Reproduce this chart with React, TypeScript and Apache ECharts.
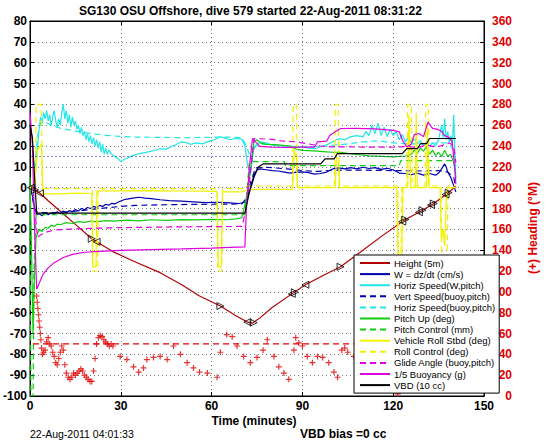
import React, { useEffect, useRef } from "react";
import * as echarts from "echarts";

const TITLE = "SG130 OSU Offshore, dive 579 started 22-Aug-2011 08:31:22";
const X_NAME = "Time (minutes)";
const Y2_NAME = "(+) Heading (\u00b0M)";
const DATE_TEXT = "22-Aug-2011 04:01:33";
const VBD_TEXT = "VBD bias =0 cc";

const LEGEND_NAMES = [
  "Height (5m)",
  "W = dz/dt (cm/s)",
  "Horiz Speed(W,pitch)",
  "Vert Speed(buoy,pitch)",
  "Horiz Speed(buoy,pitch)",
  "Pitch Up (deg)",
  "Pitch Control (mm)",
  "Vehicle Roll Stbd (deg)",
  "Roll Control (deg)",
  "Glide Angle (buoy,pitch)",
  "1/5 Buoyancy (g)",
  "VBD (10 cc)",
];

// [time (min), value]
const HEIGHT = [
  [0, 0], [1, -0.5], [1.7, -1.1], [3.3, -2.7], [6, -6.3], [10, -11.3], [15, -17.6], [20.4, -24.5],
  [22, -26], [27.5, -30.8], [35, -35.8], [43, -40.8], [50, -46.5], [56, -52], [62.9, -56.8],
  [68, -61.5], [71.8, -64.5], [73.5, -65], [76, -62.5], [80, -57.5], [87, -50.5], [91, -46.6],
  [97, -42], [102.6, -38], [110, -30], [116, -23.5], [123.5, -15.8], [129.7, -10.8],
  [133.4, -7.6], [138, -2.7], [140.7, 0.7],
];

const HEIGHT_MARKS = [
  [0.3, 0], [1.7, -1.1], [3.3, -2.7], [20.4, -24.5], [22, -26], [62.9, -56.8], [71.8, -64.5],
  [73.9, -64.8], [86.5, -51], [87.5, -50.2], [91, -46.6], [102.6, -38], [123, -16.3],
  [124, -15.3], [128.5, -11.8], [129.7, -10.8], [132.5, -8.3], [133.4, -7.6], [137.3, -3.3],
  [138.3, -2.4],
];

const W_DZDT = [
  [0, 0], [0.8, -4], [1.6, -10], [2.3, -13], [3, -12.5], [4, -13.5], [5, -12], [6, -13],
  [7, -12.2], [8, -12.8], [9, -11.5], [10, -12.5], [11, -11.2], [12, -12], [13, -11],
  [14, -11.6], [15, -10.5], [16, -11.2], [17, -10], [18, -10.6], [19, -9.5], [20, -10],
  [21, -9], [22, -9.6], [23, -8.5], [24, -9], [25, -8], [26, -8.4], [27, -7.5], [28, -7.8],
  [29, -7], [30, -6.4], [31, -5.8], [32, -5.5], [34, -5], [36, -4.6], [38, -5], [40, -5.3],
  [43, -5.8], [46, -6.2], [50, -6.5], [54, -6.8], [58, -7.2], [62, -7], [66, -7.3],
  [69, -7.6], [71, -7], [72, -4], [73, 0], [74, 5], [75, 8.5], [76, 9], [78, 8.6], [80, 8.2],
  [82, 8], [84, 7.5], [86, 7], [88, 7.5], [90, 7.6], [92, 7.2], [94, 6.5], [96, 6.8],
  [98, 7.5], [100, 9], [102, 9.5], [104, 9], [106, 9.6], [108, 9], [110, 9.8], [112, 9.2],
  [114, 9.6], [116, 8.8], [118, 9.3], [120, 8.5], [122, 7], [124, 6.8], [126, 6.2],
  [128, 7], [130, 6], [132, 6.8], [134, 6], [135, 7], [136, 9], [137, 11.4], [137.5, 10],
  [138, 7.5], [139, 5], [140, 1], [140.7, -2],
];

const VERT_SPEED = [
  [0.8, -5], [1.6, -11], [3, -12], [8, -12], [15, -11.3], [20, -10.5], [25, -9.7], [30, -9],
  [35, -8.5], [45, -8.2], [55, -8], [65, -7.9], [70, -7.8], [71.5, -5], [73, 3], [74.5, 9.5],
  [78, 9.8], [85, 9], [90, 8.2], [95, 7.8], [100, 8.4], [110, 8.4], [120, 8.2], [130, 8],
  [135, 8.2], [138, 7.5], [140, 5], [140.7, 0],
];

const HORIZ_SPEED_W = [
  [1.5, 5], [2.2, 15], [3, 28], [3.5, 34], [4, 31], [4.5, 36], [5, 33], [5.5, 37], [6, 32],
  [6.5, 35], [7, 30], [7.5, 34], [8, 37], [8.5, 32], [9, 29], [9.5, 33], [10, 30],
  [10.5, 36], [11, 40], [11.5, 33], [12, 37], [12.5, 31], [13, 35], [13.5, 29], [14, 34],
  [14.5, 30], [15, 32], [15.5, 28], [16, 30], [16.5, 26], [17, 29], [17.5, 25], [18, 27],
  [18.5, 23], [19, 26], [19.5, 22], [20, 25], [20.5, 21], [21, 24], [21.5, 20], [22, 23],
  [22.5, 19], [23, 22], [23.5, 17], [24, 21], [24.5, 16], [25, 19], [25.5, 16], [26, 18],
  [27, 16], [28, 15], [29, 14], [30, 12.5], [31, 13.5], [32, 14], [34, 15.5], [36, 16.3],
  [38, 16.8], [40, 17.5], [43, 18.7], [45, 18.5], [46.3, 19.5], [48, 20.5], [50, 22],
  [52, 21.5], [53, 20.8], [55, 21.5], [57, 21], [59, 22.2], [61, 23], [62.8, 24.4],
  [64, 24], [66, 23], [68, 23.6], [70, 23.2], [71, 20], [72, 10], [72.8, 6], [73.5, 14],
  [74, 19.5], [76, 22], [78, 21.5], [80, 20.5], [82, 20.2], [84, 20], [86, 19.8],
  [88, 19.5], [90, 19.6], [92, 19], [94, 18.7], [96, 19.5], [98, 20.5], [100, 22],
  [102, 23.5], [104, 23], [106, 24.5], [108, 25], [110, 24.4], [111, 27], [112, 25],
  [113, 30], [114, 26], [115, 31], [116, 25], [117, 29], [118, 24.5], [119, 28], [120, 25],
  [121, 27], [122, 23], [123, 25.5], [124, 22], [125, 24], [126, 21.5], [127, 23.5],
  [128, 21], [129, 22.5], [130, 20.5], [131, 22], [132, 20], [133, 21.5], [134, 20],
  [135, 23], [136, 30], [136.5, 24], [137, 33], [137.5, 23], [138, 27], [138.5, 22],
  [139, 25], [139.5, 20], [140, 35], [140.4, 15], [140.7, 4],
];

const HORIZ_SPEED_B = [
  [1.6, 10], [2.5, 25], [3.5, 31], [5, 31.5], [7, 30], [10, 28.5], [14, 27.5], [18, 26.5],
  [22, 25.7], [26, 25], [30, 24.6], [35, 24.3], [40, 24.2], [50, 24], [60, 24.2],
  [66, 24.3], [70, 24], [71.5, 20], [73, 14], [74.5, 20], [77, 21], [80, 20.5], [85, 20],
  [90, 19.6], [95, 19.8], [100, 20.3], [105, 21], [110, 22], [115, 22.5], [120, 21.5],
  [125, 21], [130, 21], [135, 21.5], [138, 21.5], [140, 18], [140.7, 10],
];

const PITCH_UP = [
  [0, 5], [0.5, -30], [1, -70], [1.5, -40], [2, -24], [2.5, -22], [3, -20], [4, -21],
  [5, -19], [6, -19.5], [7, -18], [8, -18.6], [9, -17.5], [10, -17.8], [12, -16.8],
  [14, -17.2], [16, -16.3], [18, -16.7], [20, -16], [22, -16.4], [25, -15.8], [28, -16.1],
  [32, -15.6], [36, -15.9], [40, -15.4], [45, -15.7], [50, -15.3], [55, -15.5], [60, -15.2],
  [65, -15.4], [68, -15], [70, -14.5], [71.5, -5], [73, 10], [74, 22], [75, 23], [76, 21.5],
  [78, 20.8], [82, 20.5], [86, 20], [88, 18.5], [90, 17.9], [92, 17.8], [95, 17.5],
  [98, 17.2], [100, 17], [102.6, 17], [105, 16.5], [109, 15.8], [112, 15.3], [116, 15],
  [120, 14.8], [124, 15.2], [126, 16], [127, 18], [128, 16.5], [129, 19], [130, 17.5],
  [131, 19.5], [132, 16], [133, 18], [134, 15.5], [135, 17], [136, 14.8], [137, 18],
  [138, 15], [139, 16], [140, 12], [140.7, 5],
];

const PITCH_CONTROL = [
  [0, -13], [0.3, -100], [1, -100], [1.3, -40], [2, -13], [71, -13], [72.5, 12.5],
  [84, 12.5], [84.5, 10.6], [122, 10.6], [122.5, 13], [140.7, 13],
];

const VEHICLE_ROLL = [
  [0, 0], [1.5, 2], [2.5, 18], [3.8, 21], [4.2, -3], [10, -3], [15, -2.6], [20.4, -2.8],
  [20.7, -38], [21.8, -38], [22.1, -1.6], [30, -1.5], [40, -1.4], [50, -1.6], [61.8, -1.8],
  [62.2, -38], [63.2, -38], [63.6, -2], [70, -2], [72, -1], [76, -0.8], [86.8, -0.8],
  [87.3, 18], [88, 14], [88.4, 0], [100.8, 0], [101.3, 14.6], [102, 14], [102.3, 0],
  [121.2, 0], [121.6, -38], [122.8, -38], [123.2, 0], [124.8, 0], [125.2, 35], [125.8, 0],
  [127.3, 0], [127.6, 36], [128, 0], [131, 0], [131.3, 30], [131.8, 0], [135.5, 0],
  [135.9, -25], [136.5, -20], [137, -28], [137.6, -3], [138, 0], [140.7, 0],
];

const ROLL_CONTROL = [
  [0, 0], [1.8, 0], [2, 40], [3.8, 40], [4, -0.5], [20.6, -0.5], [20.8, -40], [22.3, -40],
  [22.5, -0.5], [61.8, -0.5], [62, -40], [63.4, -40], [63.6, -0.5], [70, -0.5], [72, 0.8],
  [86.7, 0.8], [87, 40], [88, 40], [88.3, 0.8], [100.6, 0.8], [100.9, 40], [101.8, 40],
  [102.1, 0.8], [121.5, 0.8], [121.8, -40], [122.5, -40], [122.8, 0.8], [124.5, 0.8],
  [124.8, 40], [126, 40], [126.3, 0.8], [130.5, 0.8], [130.8, 40], [131.6, 40],
  [131.9, 0.8], [135.8, 0.8], [136.1, -40], [137.8, -40], [138.1, 0.8], [140.7, 0.8],
];

const GLIDE_ANGLE = [
  [1.5, -10], [2.5, -24], [3.3, -22.8], [5, -21.5], [8, -20.3], [12, -20], [20, -19.5],
  [30, -19.2], [40, -19], [50, -18.8], [60, -18.7], [70, -18.6], [71.5, -10], [73, 10],
  [74, 23.6], [80, 23.2], [83, 22.5], [88, 22], [92, 21], [96, 20], [100, 19.6],
  [110, 19.5], [120, 19.4], [125, 19.8], [128, 19.2], [131, 20.5], [134, 19.5],
  [136, 20.2], [138.5, 21.5], [140, 20], [140.7, 12],
];

const BUOYANCY = [
  [0, 36], [0.8, 20], [1.5, -20], [2.2, -48.8], [3, -46], [4.3, -41.5], [6, -38.5],
  [8, -36], [11, -33.5], [14, -32], [18, -31], [23, -30.6], [30, -30.1], [40, -29.7],
  [50, -29.4], [60, -29], [66, -28.7], [71, -28.4], [71.5, -10], [72.5, 10], [73.5, 23.6],
  [74.5, 22], [76, 19.8], [80, 19.5], [85, 19.3], [90, 19.5], [94, 19.5], [95, 22],
  [98, 22.3], [99, 25], [101, 27], [102.6, 28.4], [108, 28.5], [114, 28.2], [120, 27.5],
  [122, 26.8], [123, 23], [124.5, 19.5], [126, 21], [127, 25.5], [128.5, 26], [130, 24.5],
  [131.5, 31.5], [133, 28.5], [134.7, 28], [136, 27], [137, 25], [138.5, 24], [139.5, 22],
  [140.3, 10], [140.7, 1.6],
];

const VBD = [
  [0, 30], [0.8, 24], [1.5, 5], [2.2, -12.2], [71, -12.2], [72.5, -2], [74, 6], [75.5, 10],
  [77, 11.4], [96, 11.4], [97.5, 13.8], [100.5, 13.8], [101.5, 16.3], [123, 16.3],
  [124.5, 18.7], [128, 18.7], [129, 21.1], [131, 21.1], [132, 23.6], [140.7, 23.6],
];

const REF_LINE_15 = [[0.5, 15], [140.7, 15]];
const HEADING_TARGET = [[1, 50], [140.7, 50]];

// [time (min), heading (deg M)]
const HEADING = [
  [2.2, 96], [2.4, 90], [2.6, 84], [2.8, 78], [3.0, 72], [3.2, 66], [3.4, 60], [3.6, 54],
  [3.8, 46], [4.1, 40], [4.5, 42], [5, 44], [5.5, 52], [6, 56], [6.5, 50], [7, 48],
  [7.5, 42], [8, 38], [8.5, 32], [9, 30], [9.5, 36], [10, 42], [10.5, 48], [11, 44],
  [11.5, 30], [12, 22], [12.6, 18], [13.2, 16], [13.8, 18], [14.4, 22], [15, 20],
  [15.6, 22], [16.2, 24], [16.8, 26], [17.4, 24], [18, 20], [18.6, 18], [19.2, 16],
  [19.8, 14], [20.4, 14], [21, 24], [21.5, 36], [22, 50], [22.6, 56], [23.2, 58],
  [23.8, 57], [24.4, 54], [25, 52], [25.6, 50], [26.2, 48], [26.8, 50], [27.4, 48],
  [29.8, 38], [32, 35], [34.2, 28], [35.9, 23], [37.5, 27], [38.6, 35], [40.8, 37],
  [43, 38], [45.3, 35], [47.4, 48], [49.7, 40], [51.9, 32], [54, 27], [56, 23], [58.6, 22],
  [61.8, 18], [62.9, 42], [65, 59], [66.8, 57], [68.4, 48], [70.6, 38], [72.8, 32],
  [75, 37], [77, 44], [78.4, 54], [80.6, 38], [82.2, 28], [83.9, 22], [85.5, 16],
  [87.2, 44], [87.8, 56], [88.8, 51], [90, 48], [91.6, 38], [93.3, 32], [95, 38],
  [96.7, 37], [98.7, 32], [100.4, 23], [101.6, 18], [103, 44], [104, 46], [105, 42],
  [107, 38], [110, 30], [114, 22], [118, 12], [121.5, 2], [124, 20], [128, 36], [132, 42],
  [136, 30],
];

const RED = "#e00000";
const DASH = [6, 4];
const FONT = "'Liberation Sans', Arial, Helvetica, sans-serif";

function lineSeries(name: string, data: number[][], color: string, dashed = false, width = 1.2) {
  return {
    name,
    type: "line",
    data,
    symbol: "none",
    showSymbol: false,
    lineStyle: { color, width, type: dashed ? DASH : "solid" },
    itemStyle: { color },
    xAxisIndex: 0,
    yAxisIndex: 0,
  };
}

export default function App() {
  const ref = useRef<HTMLDivElement>(null);
  useEffect(() => {
    if (!ref.current) return;
    const chart = echarts.init(ref.current, undefined, { renderer: "svg" });
    const gridLeft = 30;
    const gridTop = 21;
    const gridW = 454;
    const gridH = 375;
    const axisLbl = { fontFamily: FONT, fontSize: 12, fontWeight: "bold", color: "#000" };
    const split = { show: true, lineStyle: { color: "#777", type: [1, 3], width: 1 } };
    const option: any = {
      animation: false,
      backgroundColor: "#fff",
      grid: {
        left: gridLeft, top: gridTop, width: gridW, height: gridH,
        show: true, borderColor: "#000", borderWidth: 1, backgroundColor: "transparent",
      },
      xAxis: [
        {
          type: "value", min: 0, max: 150, interval: 30, position: "bottom",
          axisLine: { show: true, onZero: false, lineStyle: { color: "#000" } },
          axisTick: { show: true, inside: true, length: 4, lineStyle: { color: "#000" } },
          axisLabel: { ...axisLbl, margin: 4 },
          splitLine: split,
        },
        {
          type: "value", min: 0, max: 150, interval: 30, position: "top",
          axisLine: { show: true, onZero: false, lineStyle: { color: "#000" } },
          axisTick: { show: true, inside: true, length: 4, lineStyle: { color: "#000" } },
          axisLabel: { show: false },
          splitLine: { show: false },
        },
      ],
      yAxis: [
        {
          type: "value", min: -100, max: 80, interval: 10, position: "left",
          axisLine: { show: true, onZero: false, lineStyle: { color: "#000" } },
          axisTick: { show: true, inside: true, length: 4, lineStyle: { color: "#000" } },
          axisLabel: { ...axisLbl, margin: 3 },
          splitLine: split,
        },
        {
          type: "value", min: 0, max: 360, interval: 20, position: "right",
          axisLine: { show: true, onZero: false, lineStyle: { color: "#000" } },
          axisTick: { show: true, inside: true, length: 4, lineStyle: { color: "#000" } },
          axisLabel: { ...axisLbl, color: RED, margin: 28, align: "right" },
          splitLine: { show: false },
        },
      ],
      legend: {
        data: LEGEND_NAMES,
        orient: "vertical",
        left: 354,
        top: 255,
        padding: [3, 4, 3, 5],
        itemWidth: 30,
        itemHeight: 10,
        itemGap: 1.1,
        backgroundColor: "#fff",
        borderColor: "#000",
        borderWidth: 1,
        borderRadius: 0,
        selectedMode: false,
        itemStyle: { opacity: 0, borderWidth: 0 },
        textStyle: { fontFamily: FONT, fontSize: 9.5, color: "#000", lineHeight: 10, padding: [0, 0, 0, -1] },
      },
      graphic: [
        { type: "text", left: 254 - 175, top: 5, style: { text: TITLE, font: `bold 12px ${FONT}`, fill: "#000" } },
        { type: "text", x: 254, y: 421, style: { text: X_NAME, font: `bold 12px ${FONT}`, fill: "#000", textAlign: "center", textVerticalAlign: "middle" } },
        { type: "text", x: 30, y: 434, style: { text: DATE_TEXT, font: `10.5px ${FONT}`, fill: "#000", textAlign: "left", textVerticalAlign: "middle" } },
        { type: "text", x: 300, y: 434, style: { text: VBD_TEXT, font: `bold 12px ${FONT}`, fill: "#000", textAlign: "left", textVerticalAlign: "middle" } },
        { type: "text", x: 533, y: 228, rotation: Math.PI / 2, style: { text: Y2_NAME, font: `bold 12px ${FONT}`, fill: RED, textAlign: "center", textVerticalAlign: "middle" } },
      ],
      series: [
        lineSeries(LEGEND_NAMES[0], HEIGHT, "#b00000"),
        lineSeries(LEGEND_NAMES[1], W_DZDT, "#0000b0"),
        lineSeries(LEGEND_NAMES[2], HORIZ_SPEED_W, "#22e6e6"),
        lineSeries(LEGEND_NAMES[3], VERT_SPEED, "#0000b0", true),
        lineSeries(LEGEND_NAMES[4], HORIZ_SPEED_B, "#22e6e6", true),
        lineSeries(LEGEND_NAMES[5], PITCH_UP, "#11cc11"),
        lineSeries(LEGEND_NAMES[6], PITCH_CONTROL, "#11cc11", true),
        lineSeries(LEGEND_NAMES[7], VEHICLE_ROLL, "#f2f200"),
        lineSeries(LEGEND_NAMES[8], ROLL_CONTROL, "#f2f200", true),
        lineSeries(LEGEND_NAMES[9], GLIDE_ANGLE, "#e000e0", true),
        lineSeries(LEGEND_NAMES[10], BUOYANCY, "#e000e0"),
        lineSeries(LEGEND_NAMES[11], VBD, "#000000"),
        {
          ...lineSeries("ref15", REF_LINE_15, "#0000b0"),
          lineStyle: { color: "#0000b0", width: 1, type: [1, 3] },
        },
        {
          name: "heading target", type: "line", data: HEADING_TARGET, symbol: "none",
          lineStyle: { color: RED, width: 1.2, type: DASH }, xAxisIndex: 0, yAxisIndex: 1,
        },
        {
          name: "markers", type: "scatter", xAxisIndex: 0, yAxisIndex: 0,
          data: HEIGHT_MARKS.map((p, i) => ({ value: p, symbolRotate: i % 2 === 0 ? 90 : -90 })),
          symbol: "triangle", symbolSize: 7,
          itemStyle: { color: "rgba(0,0,0,0)", borderColor: "#000", borderWidth: 1 },
          z: 3,
        },
        {
          name: "heading", type: "scatter", xAxisIndex: 0, yAxisIndex: 1,
          data: HEADING,
          symbol: "path://M2,0h1v2h2v1h-2v2h-1v-2h-2v-1h2z", symbolSize: 6,
          itemStyle: { color: RED },
          z: 3,
        },
      ],
    };
    chart.setOption(option);
    return () => chart.dispose();
  }, []);
  return <div ref={ref} style={{ position: "absolute", left: 0, top: 0, width: 546, height: 442 }} />;
}
